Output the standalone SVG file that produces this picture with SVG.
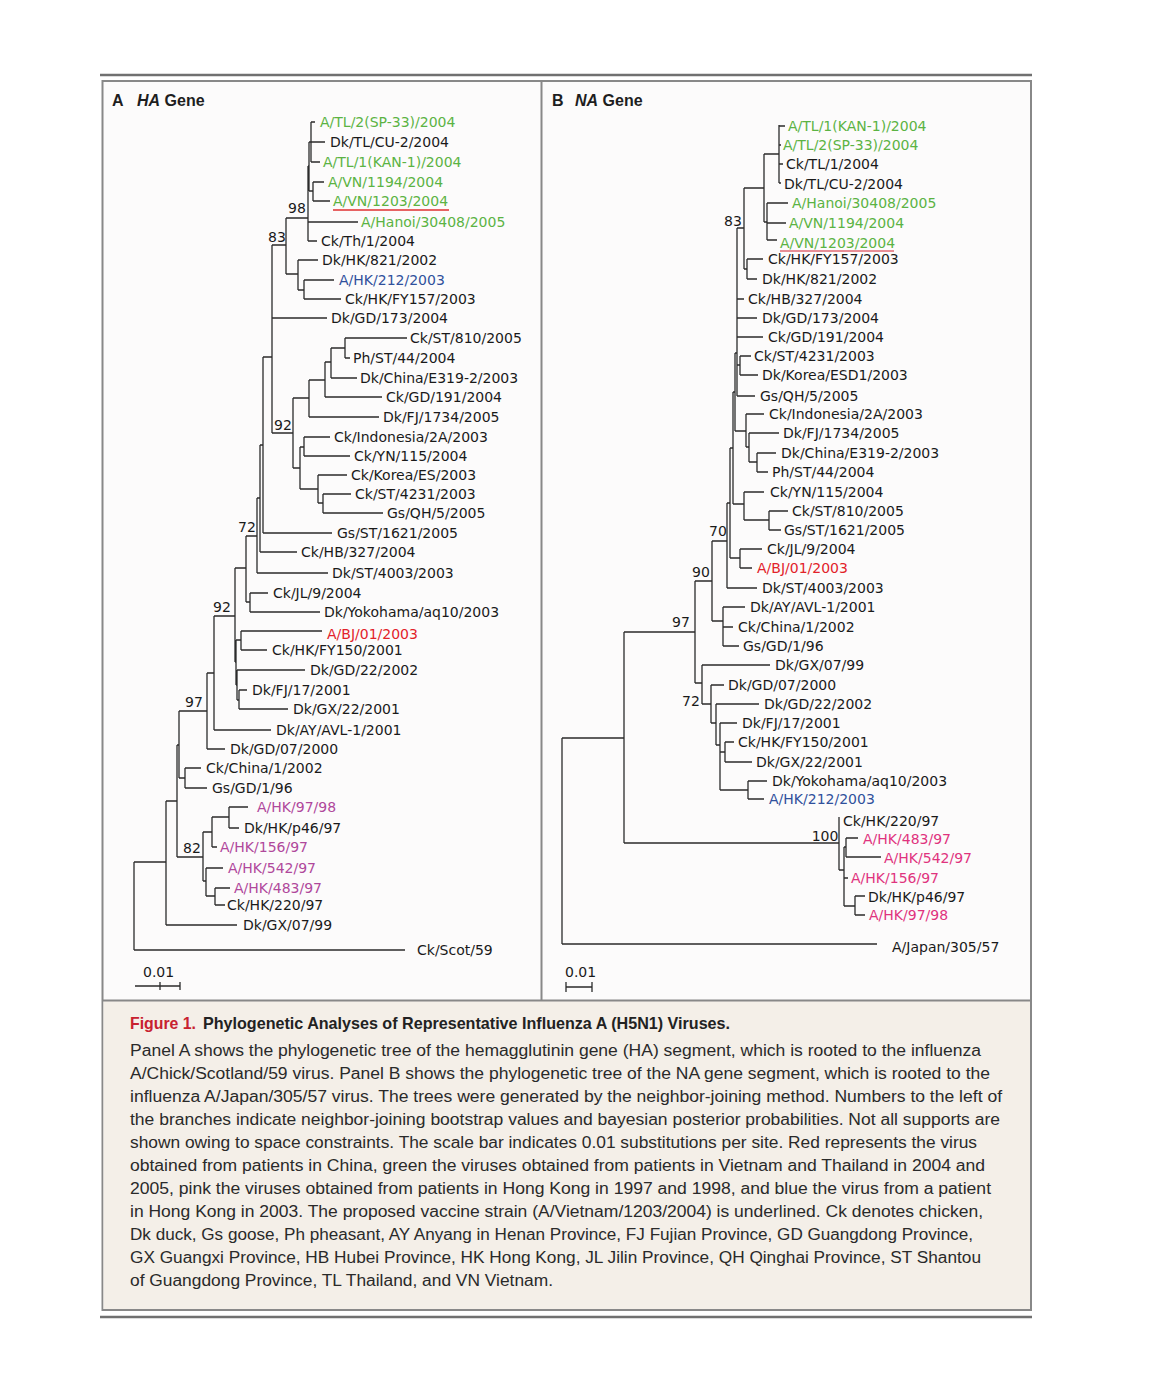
<svg xmlns="http://www.w3.org/2000/svg" width="1166" height="1388" viewBox="0 0 1166 1388">
<style>
.lbl{font-family:"DejaVu Sans",sans-serif;font-size:14px;fill:#1a1a1a}
.sup{font-family:"DejaVu Sans",sans-serif;font-size:14px;fill:#1a1a1a;text-anchor:middle}
.g{fill:#5bb343}.r{fill:#e2222a}.bl{fill:#30509c}.pa{fill:#b0489b}.pb{fill:#e0337e}
.br{fill:none;stroke:#2b2b2b;stroke-width:1.3}
.ttl{font-family:"Liberation Sans",Arial,sans-serif;font-size:16px;font-weight:bold;fill:#1e1e1e}
.cap{font-family:"Liberation Sans",Arial,sans-serif;font-size:16px;fill:#2a2a2a}
.capb{font-family:"Liberation Sans",Arial,sans-serif;font-size:16.5px;font-weight:bold;fill:#222}
</style>
<rect x="0" y="0" width="1166" height="1388" fill="#ffffff"/>
<!-- frame -->
<g id="frame">
<line x1="100" y1="75" x2="1032" y2="75" stroke="#707070" stroke-width="2.5"/>
<rect x="102.5" y="81" width="928.5" height="1229" fill="#fcfbfb" stroke="#888" stroke-width="2"/>
<rect x="103.5" y="1001" width="926.5" height="308" fill="#f4efe8"/>
<line x1="102.5" y1="1000.5" x2="1031" y2="1000.5" stroke="#888" stroke-width="2"/>
<line x1="541.5" y1="81" x2="541.5" y2="1000" stroke="#888" stroke-width="2"/>
<line x1="100" y1="1317" x2="1032" y2="1317" stroke="#707070" stroke-width="2.5"/>
</g>
<!-- titles -->
<g id="titleA"><text class="ttl" x="112" y="106">A</text><text class="ttl" x="137" y="106"><tspan font-style="italic">HA</tspan> Gene</text></g>
<g id="titleB"><text class="ttl" x="552" y="106">B</text><text class="ttl" x="575" y="106"><tspan font-style="italic">NA</tspan> Gene</text></g>

<!-- connectors -->
<g id="connectors" class="br">
<path d="M311 122H315M311 142H325M311 162H320M313 182H324M313 201H330M308 222H358M308 241H317M298 260H318M304 280H334M304 299H341M272 318H327M345 338H407M345 358H350M331 378H357M325 397H382M309 417H379M304 437H330M304 456H350M318 475H347M323 494H351M323 513H383M263 533H332M260 552H297M257 573H328M250 593H268M250 612H320M241 631H322M241 650H267M237 670H305M239 690H247M239 709H288M214 730H271M207 749H225M185 768H201M185 788H207M229 807H248M229 828H239M212 847H217M206 868H223M215 888H230M215 905H225M166 925H237M134 950H405"/>
<path d="M311 122V162M309 142V191M309 142H311M309 191H313M313 182V201M308 166V241M308 166H309M286 218H308M286 218V274M286 274H298M298 260V290M298 290H304M304 280V299M272 245H286M272 245V433M263 357H272M272 433H293M293 398V468M293 398H309M293 468H300M309 380V417M309 380H325M325 362V397M325 362H331M331 348V378M331 348H345M345 338V358M300 447V489M300 447H304M300 489H318M304 437V456M318 475V503M318 503H323M323 494V513M263 357V533M260 445H263M260 445V552M257 498H260M257 498V573M246 536H257M246 536V602M246 602H250M250 593V612M235 568H246M235 568V662M235 662H236M214 616H235M236 640V685M236 640H241M236 685H237M241 631V650M237 670V700M237 700H239M239 690V709M214 616V730M207 673H214M207 673V749M179 711H207M179 711V778M179 778H185M185 768V788M177 745H179M177 745V857M177 857H203M203 832V881M203 832H212M203 881H206M212 817V847M212 817H229M229 807V828M206 868V896M206 896H215M215 888V905M166 801H177M166 801V925M134 862H166M134 862V950"/>
<path d="M135 986H180M160 982V990M180 982V990"/>
<path d="M779 126H785M779 145H781M779 164H783M779 183H781M767 203H788M767 223H786M767 240H777M747 259H763M747 279H757M737 299H744M737 318H757M737 337H763M740 356H751M740 375H758M737 396H755M746 414H764M749 433H779M757 453H776M757 472H768M744 492H764M769 511H788M769 530H781M740 549H762M740 568H752M727 588H757M723 607H745M723 627H733M723 646H739M702 665H770M711 685H724M716 704H759M720 723H737M725 742H734M725 762H752M748 781H767M748 799H764M846 838H858M846 857H881M844 878H848M855 896H865M855 915H865M562 944H877"/>
<path d="M779 125V183M764 154H779M767 203V240M764 222H767M764 154V222M744 188H764M747 259V279M744 269H747M744 188V269M737 228H744M737 228V396M740 356V375M737 365H740M735 353V431M735 353H737M735 431H746M746 414V447M746 447H749M749 433V462M749 462H757M757 453V472M733 392V504M733 392H735M733 504H744M744 492V520M744 520H769M769 511V530M730 448V558M730 448H733M730 558H740M740 549V568M727 503V588M727 503H730M712 541H727M712 541V621M712 621H723M723 607V646M695 581H712M695 581V683M695 683H702M702 665V704M702 704H711M711 685V723M711 723H716M716 704V745M716 745H720M720 723V790M720 752H725M720 790H748M725 742V762M748 781V799M624 632H695M624 632V843M624 843H839M839 817V870M839 870H844M844 847V906M844 847H846M844 906H855M846 838V857M855 896V915M562 738H624M562 738V944"/>
<path d="M566 987H592M566 982V992M592 982V992"/>
<path d="M333 210H449" stroke="#e03030" stroke-width="1.5"/>
<path d="M780 251H894" stroke="#e06a74" stroke-width="1.5"/>
</g>

<!-- Panel A leaves -->
<g id="a01"><text class="lbl g" x="320" y="127">A/TL/2(SP-33)/2004</text></g>
<g id="a02"><text class="lbl" x="330" y="147">Dk/TL/CU-2/2004</text></g>
<g id="a03"><text class="lbl g" x="323" y="167">A/TL/1(KAN-1)/2004</text></g>
<g id="a04"><text class="lbl g" x="328" y="187">A/VN/1194/2004</text></g>
<g id="a05"><text class="lbl g" x="333" y="206">A/VN/1203/2004</text></g>
<g id="a06"><text class="lbl g" x="361" y="227">A/Hanoi/30408/2005</text></g>
<g id="a07"><text class="lbl" x="321" y="246">Ck/Th/1/2004</text></g>
<g id="a08"><text class="lbl" x="322" y="265">Dk/HK/821/2002</text></g>
<g id="a09"><text class="lbl bl" x="339" y="285">A/HK/212/2003</text></g>
<g id="a10"><text class="lbl" x="345" y="304">Ck/HK/FY157/2003</text></g>
<g id="a11"><text class="lbl" x="331" y="323">Dk/GD/173/2004</text></g>
<g id="a12"><text class="lbl" x="410" y="343">Ck/ST/810/2005</text></g>
<g id="a13"><text class="lbl" x="353" y="363">Ph/ST/44/2004</text></g>
<g id="a14"><text class="lbl" x="360" y="383">Dk/China/E319-2/2003</text></g>
<g id="a15"><text class="lbl" x="386" y="402">Ck/GD/191/2004</text></g>
<g id="a16"><text class="lbl" x="383" y="422">Dk/FJ/1734/2005</text></g>
<g id="a17"><text class="lbl" x="334" y="442">Ck/Indonesia/2A/2003</text></g>
<g id="a18"><text class="lbl" x="354" y="461">Ck/YN/115/2004</text></g>
<g id="a19"><text class="lbl" x="351" y="480">Ck/Korea/ES/2003</text></g>
<g id="a20"><text class="lbl" x="355" y="499">Ck/ST/4231/2003</text></g>
<g id="a21"><text class="lbl" x="387" y="518">Gs/QH/5/2005</text></g>
<g id="a22"><text class="lbl" x="337" y="538">Gs/ST/1621/2005</text></g>
<g id="a23"><text class="lbl" x="301" y="557">Ck/HB/327/2004</text></g>
<g id="a24"><text class="lbl" x="332" y="578">Dk/ST/4003/2003</text></g>
<g id="a25"><text class="lbl" x="273" y="598">Ck/JL/9/2004</text></g>
<g id="a26"><text class="lbl" x="324" y="617">Dk/Yokohama/aq10/2003</text></g>
<g id="a27"><text class="lbl r" x="327" y="639">A/BJ/01/2003</text></g>
<g id="a28"><text class="lbl" x="272" y="655">Ck/HK/FY150/2001</text></g>
<g id="a29"><text class="lbl" x="310" y="675">Dk/GD/22/2002</text></g>
<g id="a30"><text class="lbl" x="252" y="695">Dk/FJ/17/2001</text></g>
<g id="a31"><text class="lbl" x="293" y="714">Dk/GX/22/2001</text></g>
<g id="a32"><text class="lbl" x="276" y="735">Dk/AY/AVL-1/2001</text></g>
<g id="a33"><text class="lbl" x="230" y="754">Dk/GD/07/2000</text></g>
<g id="a34"><text class="lbl" x="206" y="773">Ck/China/1/2002</text></g>
<g id="a35"><text class="lbl" x="212" y="793">Gs/GD/1/96</text></g>
<g id="a36"><text class="lbl pa" x="257" y="812">A/HK/97/98</text></g>
<g id="a37"><text class="lbl" x="244" y="833">Dk/HK/p46/97</text></g>
<g id="a38"><text class="lbl pa" x="220" y="852">A/HK/156/97</text></g>
<g id="a39"><text class="lbl pa" x="228" y="873">A/HK/542/97</text></g>
<g id="a40"><text class="lbl pa" x="234" y="893">A/HK/483/97</text></g>
<g id="a41"><text class="lbl" x="227" y="910">Ck/HK/220/97</text></g>
<g id="a42"><text class="lbl" x="243" y="930">Dk/GX/07/99</text></g>
<g id="a43"><text class="lbl" x="417" y="955">Ck/Scot/59</text></g>
<g id="a-supports">
<text class="sup" x="297" y="213">98</text>
<text class="sup" x="277" y="242">83</text>
<text class="sup" x="283" y="430">92</text>
<text class="sup" x="247" y="532">72</text>
<text class="sup" x="222" y="612">92</text>
<text class="sup" x="194" y="707">97</text>
<text class="sup" x="192" y="853">82</text>
</g>
<g id="a-scale"><text class="lbl" x="143" y="977">0.01</text></g>

<!-- Panel B leaves -->
<g id="b01"><text class="lbl g" x="788" y="131">A/TL/1(KAN-1)/2004</text></g>
<g id="b02"><text class="lbl g" x="783" y="150">A/TL/2(SP-33)/2004</text></g>
<g id="b03"><text class="lbl" x="786" y="169">Ck/TL/1/2004</text></g>
<g id="b04"><text class="lbl" x="784" y="189">Dk/TL/CU-2/2004</text></g>
<g id="b05"><text class="lbl g" x="792" y="208">A/Hanoi/30408/2005</text></g>
<g id="b06"><text class="lbl g" x="789" y="228">A/VN/1194/2004</text></g>
<g id="b07"><text class="lbl g" x="780" y="248">A/VN/1203/2004</text></g>
<g id="b08"><text class="lbl" x="768" y="264">Ck/HK/FY157/2003</text></g>
<g id="b09"><text class="lbl" x="762" y="284">Dk/HK/821/2002</text></g>
<g id="b10"><text class="lbl" x="748" y="304">Ck/HB/327/2004</text></g>
<g id="b11"><text class="lbl" x="762" y="323">Dk/GD/173/2004</text></g>
<g id="b12"><text class="lbl" x="768" y="342">Ck/GD/191/2004</text></g>
<g id="b13"><text class="lbl" x="754" y="361">Ck/ST/4231/2003</text></g>
<g id="b14"><text class="lbl" x="762" y="380">Dk/Korea/ESD1/2003</text></g>
<g id="b15"><text class="lbl" x="760" y="401">Gs/QH/5/2005</text></g>
<g id="b16"><text class="lbl" x="769" y="419">Ck/Indonesia/2A/2003</text></g>
<g id="b17"><text class="lbl" x="783" y="438">Dk/FJ/1734/2005</text></g>
<g id="b18"><text class="lbl" x="781" y="458">Dk/China/E319-2/2003</text></g>
<g id="b19"><text class="lbl" x="772" y="477">Ph/ST/44/2004</text></g>
<g id="b20"><text class="lbl" x="770" y="497">Ck/YN/115/2004</text></g>
<g id="b21"><text class="lbl" x="792" y="516">Ck/ST/810/2005</text></g>
<g id="b22"><text class="lbl" x="784" y="535">Gs/ST/1621/2005</text></g>
<g id="b23"><text class="lbl" x="767" y="554">Ck/JL/9/2004</text></g>
<g id="b24"><text class="lbl r" x="757" y="573">A/BJ/01/2003</text></g>
<g id="b25"><text class="lbl" x="762" y="593">Dk/ST/4003/2003</text></g>
<g id="b26"><text class="lbl" x="750" y="612">Dk/AY/AVL-1/2001</text></g>
<g id="b27"><text class="lbl" x="738" y="632">Ck/China/1/2002</text></g>
<g id="b28"><text class="lbl" x="743" y="651">Gs/GD/1/96</text></g>
<g id="b29"><text class="lbl" x="775" y="670">Dk/GX/07/99</text></g>
<g id="b30"><text class="lbl" x="728" y="690">Dk/GD/07/2000</text></g>
<g id="b31"><text class="lbl" x="764" y="709">Dk/GD/22/2002</text></g>
<g id="b32"><text class="lbl" x="742" y="728">Dk/FJ/17/2001</text></g>
<g id="b33"><text class="lbl" x="738" y="747">Ck/HK/FY150/2001</text></g>
<g id="b34"><text class="lbl" x="756" y="767">Dk/GX/22/2001</text></g>
<g id="b35"><text class="lbl" x="772" y="786">Dk/Yokohama/aq10/2003</text></g>
<g id="b36"><text class="lbl bl" x="769" y="804">A/HK/212/2003</text></g>
<g id="b37"><text class="lbl" x="843" y="826">Ck/HK/220/97</text></g>
<g id="b38"><text class="lbl pb" x="863" y="844">A/HK/483/97</text></g>
<g id="b39"><text class="lbl pb" x="884" y="863">A/HK/542/97</text></g>
<g id="b40"><text class="lbl pb" x="851" y="883">A/HK/156/97</text></g>
<g id="b41"><text class="lbl" x="868" y="902">Dk/HK/p46/97</text></g>
<g id="b42"><text class="lbl pb" x="869" y="920">A/HK/97/98</text></g>
<g id="b43"><text class="lbl" x="892" y="952">A/Japan/305/57</text></g>
<g id="b-supports">
<text class="sup" x="733" y="226">83</text>
<text class="sup" x="718" y="536">70</text>
<text class="sup" x="701" y="577">90</text>
<text class="sup" x="681" y="627">97</text>
<text class="sup" x="691" y="706">72</text>
<text class="sup" x="825" y="841">100</text>
</g>
<g id="b-scale"><text class="lbl" x="565" y="977">0.01</text></g>

<!-- caption -->
<g id="caption">
<text class="capb" x="130" y="1029" fill="#c8212f" style="fill:#c8212f" textLength="66" lengthAdjust="spacingAndGlyphs">Figure 1.</text>
<text class="capb" x="203" y="1029" textLength="527" lengthAdjust="spacingAndGlyphs">Phylogenetic Analyses of Representative Influenza A (H5N1) Viruses.</text>
<text class="cap" x="130" y="1056" textLength="851" lengthAdjust="spacingAndGlyphs">Panel A shows the phylogenetic tree of the hemagglutinin gene (HA) segment, which is rooted to the influenza</text>
<text class="cap" x="130" y="1079" textLength="860" lengthAdjust="spacingAndGlyphs">A/Chick/Scotland/59 virus. Panel B shows the phylogenetic tree of the NA gene segment, which is rooted to the</text>
<text class="cap" x="130" y="1102" textLength="872" lengthAdjust="spacingAndGlyphs">influenza A/Japan/305/57 virus. The trees were generated by the neighbor-joining method. Numbers to the left of</text>
<text class="cap" x="130" y="1125" textLength="870" lengthAdjust="spacingAndGlyphs">the branches indicate neighbor-joining bootstrap values and bayesian posterior probabilities. Not all supports are</text>
<text class="cap" x="130" y="1148" textLength="847" lengthAdjust="spacingAndGlyphs">shown owing to space constraints. The scale bar indicates 0.01 substitutions per site. Red represents the virus</text>
<text class="cap" x="130" y="1171" textLength="855" lengthAdjust="spacingAndGlyphs">obtained from patients in China, green the viruses obtained from patients in Vietnam and Thailand in 2004 and</text>
<text class="cap" x="130" y="1194" textLength="861" lengthAdjust="spacingAndGlyphs">2005, pink the viruses obtained from patients in Hong Kong in 1997 and 1998, and blue the virus from a patient</text>
<text class="cap" x="130" y="1217" textLength="853" lengthAdjust="spacingAndGlyphs">in Hong Kong in 2003. The proposed vaccine strain (A/Vietnam/1203/2004) is underlined. Ck denotes chicken,</text>
<text class="cap" x="130" y="1240" textLength="843" lengthAdjust="spacingAndGlyphs">Dk duck, Gs goose, Ph pheasant, AY Anyang in Henan Province, FJ Fujian Province, GD Guangdong Province,</text>
<text class="cap" x="130" y="1263" textLength="851" lengthAdjust="spacingAndGlyphs">GX Guangxi Province, HB Hubei Province, HK Hong Kong, JL Jilin Province, QH Qinghai Province, ST Shantou</text>
<text class="cap" x="130" y="1286" textLength="423" lengthAdjust="spacingAndGlyphs">of Guangdong Province, TL Thailand, and VN Vietnam.</text>
</g>
</svg>
